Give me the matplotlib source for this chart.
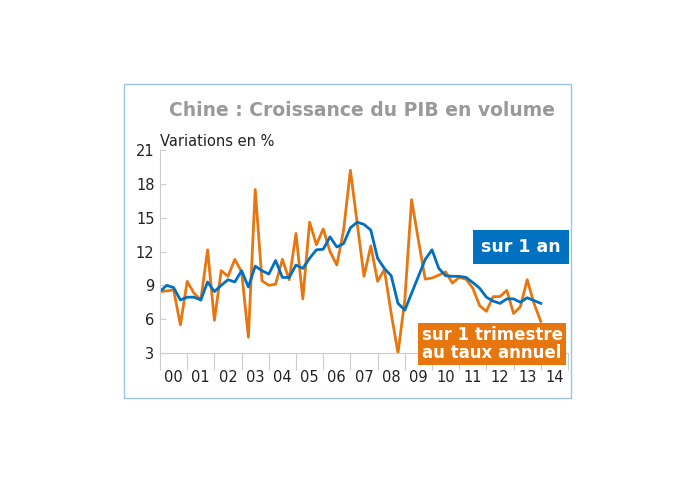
import matplotlib
matplotlib.use("Agg")
import matplotlib.pyplot as plt
from matplotlib.patches import Rectangle
import numpy as np

quarterly = [8.46,8.5,8.6,5.5,9.35,8.3,7.7,12.15,5.9,10.3,9.8,11.3,10.2,4.4,17.5,9.4,9.0,9.1,11.3,9.5,
             13.6,7.8,14.6,12.6,14.0,12.0,10.8,13.9,19.2,14.5,9.8,12.5,9.35,10.4,6.5,3.0,7.7,16.6,13.0,9.55,
             9.65,9.9,10.2,9.2,9.7,9.55,8.75,7.2,6.7,8.0,8.0,8.55,6.5,7.1,9.5,7.4,5.8]
annual = [8.46,9.0,8.8,7.7,7.95,7.95,7.7,9.3,8.45,9.0,9.5,9.3,10.3,8.85,10.7,10.3,10.0,11.2,9.7,9.7,
          10.8,10.5,11.4,12.15,12.2,13.3,12.4,12.7,14.1,14.6,14.4,13.9,11.4,10.5,9.85,7.4,6.8,8.3,9.8,11.3,
          12.15,10.5,9.85,9.8,9.8,9.7,9.25,8.75,7.95,7.6,7.4,7.8,7.8,7.5,7.9,7.65,7.4]
year_labels = ["00","01","02","03","04","05","06","07","08","09","10","11","12","13","14"]
yticks = [3,6,9,12,15,18,21]

ORANGE = "#E8760F"
BLUE = "#0070C0"
W, H = 695, 483
fig = plt.figure(figsize=(W/100, H/100), dpi=100)
fig.patches.append(Rectangle((124/W, 1-398/H), (571-124)/W, (398-84)/H, transform=fig.transFigure,
                             fill=False, edgecolor="#9DC3E6", lw=1))
ax = fig.add_axes([160/W, 1-353/H, (568-160)/W, (353-150)/H])
x = 2000 + np.arange(len(quarterly))/4
ax.plot(x, quarterly, color=ORANGE, lw=2)
ax.plot(x, annual, color=BLUE, lw=2)
ax.set_xlim(2000, 2015)
ax.set_ylim(3, 21)
ax.set_yticks(yticks)
ax.set_yticklabels([str(v) for v in yticks], fontsize=10.5, color="#222222")
ax.set_xticks(np.arange(2000, 2016))
ax.set_xticklabels([])
ax.tick_params(axis="x", length=12, color="#cccccc", direction="out")
ax.tick_params(axis="y", length=4, color="#cccccc", direction="in", pad=4)
for i, lab in enumerate(year_labels):
    ax.text(2000.5+i, -0.12, lab, transform=ax.get_xaxis_transform(), ha="center", va="center",
            fontsize=10.5, color="#222222")
for s in ["top","right"]:
    ax.spines[s].set_visible(False)
for s in ["left","bottom"]:
    ax.spines[s].set_color("#cccccc")
fig.text(362/W, 1-111/H, "Chine : Croissance du PIB en volume", ha="center", va="center",
         fontsize=13.5, color="#999999", fontweight="bold")
fig.text(160/W, 1-141/H, "Variations en %", ha="left", va="center", fontsize=10.5, color="#222222")
fig.text(521/W, 1-247/H, "sur 1 an", ha="center", va="center", fontsize=12.5, color="white",
         fontweight="bold", bbox=dict(boxstyle="square,pad=0.45", fc=BLUE, ec="none"))
fig.text(492/W, 1-344/H, "sur 1 trimestre\nau taux annuel", ha="center", va="center", fontsize=12,
         color="white", fontweight="bold", linespacing=0.95,
         bbox=dict(boxstyle="square,pad=0.2", fc=ORANGE, ec="none"))
fig.savefig("out.png", dpi=100)
